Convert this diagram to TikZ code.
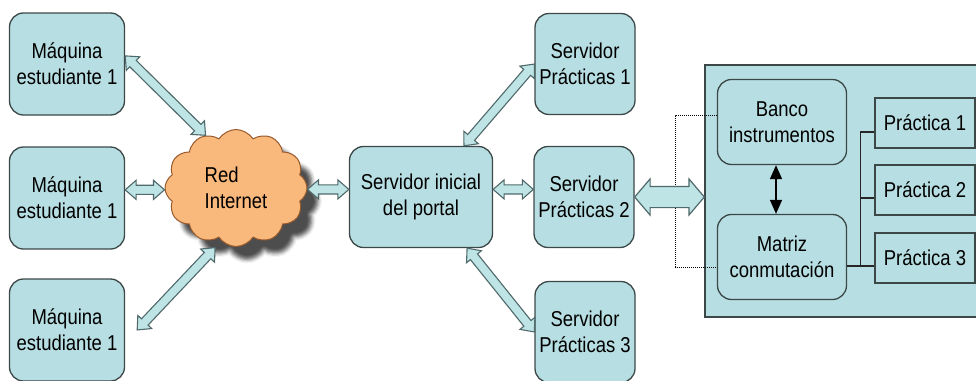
\documentclass[tikz,border=0pt]{standalone}
\usepackage{fontspec}
\setmainfont{Liberation Sans}[FakeStretch=0.86]
\usetikzlibrary{arrows.meta,positioning,calc,shapes.symbols,shapes.arrows,shadows.blur}
\definecolor{boxfill}{RGB}{183,222,226}
\definecolor{boxline}{RGB}{60,72,72}
\definecolor{arrfill}{RGB}{190,228,230}
\definecolor{arrline}{RGB}{80,105,106}
\definecolor{cloudfill}{RGB}{249,184,124}
\definecolor{cloudline}{RGB}{150,90,45}

\begin{document}
\begin{tikzpicture}[x=1pt, y=-1pt,
  font=\fontsize{21.5}{26}\selectfont,
  box/.style={draw=boxline, fill=boxfill, rounded corners=14pt, line width=1.3pt,
              align=center, inner sep=1pt},
  mach/.style={box, minimum width=115pt, minimum height=102pt},
  srvbox/.style={box, minimum width=100pt, minimum height=101pt},
  lbox/.style={box, minimum width=129pt, minimum height=85pt},
  pbox/.style={draw=boxline, fill=boxfill, line width=1.3pt, minimum width=100pt,
               minimum height=50pt},
  panel/.style={draw=boxline, fill=boxfill, line width=1.3pt, minimum width=280pt,
                minimum height=252pt, inner sep=0pt},
  cloudy/.style={cloud, cloud puffs=12, cloud puff arc=115, aspect=1.21,
                 draw=cloudline, fill=cloudfill, line width=1pt, align=left,
                 minimum width=142pt, minimum height=117pt,
                 blur shadow={shadow xshift=11pt, shadow yshift=-13pt,
                              shadow opacity=70, shadow blur radius=4pt}},
  thin arrow/.style={double arrow, draw=arrline, fill=arrfill, line width=1.1pt,
                     inner sep=4pt, double arrow head extend=5pt,
                     double arrow tip angle=82},
  fat arrow/.style={double arrow, draw=arrline, fill=arrfill, line width=1.2pt,
                    inner sep=10pt, double arrow head extend=7.5pt,
                    double arrow tip angle=99},
  link/.style={to path={let \p1=($(\tikztotarget)-(\tikztostart)$),
                            \n1={atan2(\y1,\x1)}, \n2={veclen(\x1,\y1)} in
               node[#1, rotate=\n1, minimum height=\n2]
                 at ($(\tikztostart)!0.5!(\tikztotarget)$) {}}},
  link/.default=thin arrow,
  dots/.style={densely dotted, line width=1pt},
  tree/.style={line width=1.2pt, black!85},
  biarr/.style={{Triangle[length=14pt,width=12pt]}-{Triangle[length=14pt,width=12pt]}, line width=1.6pt},
]
\useasboundingbox (0,0) rectangle (976,380);

% alumnos
\node[mach] (m1) at (67,64) {Máquina\\estudiante 1};
\node[mach] (m2) at (67,198) {Máquina\\estudiante 1};
\node[mach] (m3) at (67,330) {Máquina\\estudiante 1};
\node[cloudy] (net) at (236,188) {Red\\Internet};

% servidores
\node[box, minimum width=143pt, minimum height=101pt] (srv) at (421,197) {Servidor inicial\\del portal};
\node[srvbox] (s1) at (585,64) {Servidor\\Prácticas 1};
\node[srvbox] (s2) at (584,197) {Servidor\\Prácticas 2};
\node[srvbox] (s3) at (585,332) {Servidor\\Prácticas 3};

% laboratorio
\node[panel] (lab) at (845,191) {};
\node[lbox] (banco) at (782,122) {Banco\\instrumentos};
\node[lbox] (mat) at (782,257) {Matriz\\conmutación};
\node[pbox] (pr1) at (925,123) {Práctica 1};
\node[pbox] (pr2) at (925,190) {Práctica 2};
\node[pbox] (pr3) at (925,258) {Práctica 3};

\draw[biarr] ([xshift=-6pt]banco.south) -- ([xshift=-6pt]mat.north);
\draw[tree] ([yshift=-8pt]pr3.west) -- ([yshift=-8pt]pr3.west -| mat.east);
\draw[tree] ([yshift=-9pt]pr1.west) -- ++(-14,0) |- ([yshift=-8pt]pr3.west);
\draw[tree] ([yshift=-8pt]pr2.west) -- ++(-14,0);
\draw[dots] ([yshift=7pt]banco.west) -- ++(-41,0) |- ([yshift=-10pt]mat.west);

% enlaces
\path[link] (m1.8) to (net.120);
\path[link] (m2.8) to (m2.8 -| net.west);
\path[link] ([xshift=12pt]m3.east) to ([yshift=-8pt]net.248);
\path[link] (net.east |- srv.174) to (srv.174);
\path[link] (srv.6) to (srv.6 -| s2.west);
\path[link] (srv.50) to (s1.west);
\path[link] (srv.-48) to (s3.west);
\path[link=fat arrow] (s2.east) to (s2.east -| lab.west);
\end{tikzpicture}
\end{document}
